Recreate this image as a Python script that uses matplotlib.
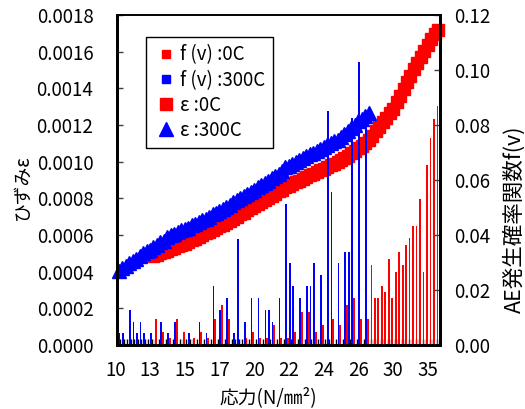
import matplotlib
matplotlib.use("Agg")
import matplotlib.pyplot as plt
from matplotlib.lines import Line2D
from matplotlib.ticker import FormatStrFormatter
import matplotlib.transforms as mtransforms
import numpy as np

plt.rcParams['font.family'] = ['Noto Sans CJK JP', 'DejaVu Sans']

# ---------------- data ----------------
tick_labels = ["10", "13", "15", "17", "20", "22", "24", "26", "30", "35"]

# AE occurrence probability f(v), one value per stress category (93 categories)
fv_0c = [
    0, 0, 0, 0, 0, 0, 0, 0, 0, 0,
    0, 0.0096, 0, 0.0048, 0, 0.0024, 0, 0.0096, 0, 0.0048,
    0, 0, 0.0024, 0, 0.0048, 0, 0.0024, 0, 0.0096, 0,
    0.0145, 0, 0.0096, 0, 0, 0, 0, 0.0024, 0, 0.0048,
    0, 0.0024, 0, 0.0024, 0, 0.0072, 0, 0.0024, 0, 0.0024,
    0, 0.0048, 0, 0.012, 0, 0.012, 0, 0.0048, 0, 0.0072,
    0, 0, 0.0096, 0, 0.0072, 0, 0.0145, 0, 0.017, 0,
    0.0096, 0, 0.0096, 0.029, 0.017, 0.017, 0.0215, 0.0193, 0.0313, 0.017,
    0.0265, 0.0338, 0.029, 0.0364, 0.0388, 0.0434, 0.0434, 0.0532, 0.0265, 0.0655,
    0.0752, 0.0822, 0.087,
]
fv_300c = [
    0.0042, 0.0042, 0, 0.0128, 0.0085, 0.0042, 0.0085, 0.0042, 0, 0.0042,
    0, 0, 0.0085, 0, 0.0042, 0, 0.0085, 0, 0, 0,
    0.0042, 0, 0, 0.0085, 0, 0.0042, 0, 0.0215, 0, 0.0128,
    0, 0.017, 0, 0.0042, 0.0385, 0, 0.0085, 0, 0.017, 0,
    0.017, 0, 0.0128, 0.0128, 0.0085, 0, 0.017, 0, 0.0513, 0.0298,
    0.0215, 0, 0.017, 0, 0.0215, 0.0215, 0.0298, 0, 0.0255, 0,
    0.085, 0.0555, 0, 0.0298, 0, 0.034, 0.034, 0.0825, 0, 0.103,
    0, 0.081, 0, 0, 0, 0, 0, 0, 0, 0,
    0, 0, 0, 0, 0, 0, 0, 0, 0, 0,
    0, 0, 0,
]

# strain epsilon, 300C: categories 0..72
eps_300c = [
    0.000404, 0.000418, 0.000430, 0.000445, 0.000458, 0.000470, 0.000488, 0.000500, 0.000512, 0.000520,
    0.000535, 0.000545, 0.000560, 0.000570, 0.000588, 0.000600, 0.000605, 0.000615, 0.000625, 0.000632,
    0.000640, 0.000652, 0.000660, 0.000670, 0.000680, 0.000690, 0.000700, 0.000712, 0.000718, 0.000730,
    0.000742, 0.000755, 0.000765, 0.000778, 0.000790, 0.000800, 0.000812, 0.000825, 0.000835, 0.000848,
    0.000860, 0.000872, 0.000885, 0.000895, 0.000910, 0.000922, 0.000935, 0.000950, 0.000970, 0.000978,
    0.000990, 0.000998, 0.001010, 0.001018, 0.001030, 0.001040, 0.001050, 0.001060, 0.001070, 0.001078,
    0.001090, 0.001100, 0.001110, 0.001120, 0.001135, 0.001150, 0.001165, 0.001185, 0.001200, 0.001220,
    0.001235, 0.001250, 0.001265,
]
# strain epsilon, 0C: categories 10..92
eps_0c_start = 10
eps_0c = [
    0.000485, 0.000492, 0.000500, 0.000508, 0.000515, 0.000522, 0.000530, 0.000538, 0.000545, 0.000552,
    0.000562, 0.000572, 0.000580, 0.000590, 0.000600, 0.000610, 0.000618, 0.000628, 0.000638, 0.000648,
    0.000657, 0.000666, 0.000676, 0.000688, 0.000700, 0.000712, 0.000722, 0.000735, 0.000745, 0.000758,
    0.000770, 0.000780, 0.000792, 0.000803, 0.000815, 0.000826, 0.000838, 0.000848, 0.000860, 0.000868,
    0.000878, 0.000888, 0.000896, 0.000906, 0.000915, 0.000925, 0.000934, 0.000944, 0.000953, 0.000962,
    0.000972, 0.000982, 0.000990, 0.001000, 0.001010, 0.001020, 0.001033, 0.001046, 0.001060, 0.001073,
    0.001086, 0.001100, 0.001120, 0.001142, 0.001165, 0.001190, 0.001215, 0.001240, 0.001265, 0.001290,
    0.001325, 0.001360, 0.001398, 0.001435, 0.001470, 0.001505, 0.001540, 0.001572, 0.001605, 0.001638,
    0.001670, 0.001695, 0.001720,
]

RED = '#FF0000'
BLUE = '#0000FF'
FS = 13.5

W, H = 525, 409
fig = plt.figure(figsize=(W / 100, H / 100), dpi=100)
L, R, T, B = 117, 440, 15, 345
ax = fig.add_axes([L / W, 1 - B / H, (R - L) / W, (B - T) / H])
ax2 = ax.twinx()

n_cat = len(fv_0c)
x = np.arange(n_cat)

# strain series on left axis (drawn below bars)
ax.plot(np.arange(eps_0c_start, eps_0c_start + len(eps_0c)), eps_0c, ls='none',
        marker='s', ms=8, color=RED, mec=RED, clip_on=False)
ax.plot(np.arange(len(eps_300c)), eps_300c, ls='none',
        marker='^', ms=9.5, color=BLUE, mec=BLUE, clip_on=False)

# f(v) bars on right axis
bw = 0.5
ax2.bar(x - 0.25, fv_0c, width=bw, color=RED, linewidth=0, antialiased=False)
ax2.bar(x + 0.25, fv_300c, width=bw, color=BLUE, linewidth=0, antialiased=False)

ax.set_xlim(-0.5, n_cat - 0.5)
ax.set_ylim(0, 0.0018)
ax2.set_ylim(0, 0.12)

ax.set_xticks(np.arange(0, n_cat, 10))
ax.set_xticklabels(tick_labels)
ax.set_xticks(np.arange(-0.5, n_cat, 1), minor=True)
ax.tick_params(axis='x', which='major', length=0, pad=11, labelsize=FS)
ax.tick_params(axis='x', which='minor', direction='in', length=4.3, width=1, color='black')
shift = mtransforms.ScaledTranslation(-3.5 / 100, 0, fig.dpi_scale_trans)
for lab in ax.get_xticklabels():
    lab.set_transform(lab.get_transform() + shift)

ax.set_yticks(np.arange(0, 0.00181, 0.0002))
ax.yaxis.set_major_formatter(FormatStrFormatter('%.4f'))
ax.tick_params(axis='y', direction='in', length=4, width=1, color='#404040', pad=17, labelsize=FS)

ax2.set_yticks(np.arange(0, 0.1201, 0.02))
ax2.yaxis.set_major_formatter(FormatStrFormatter('%.2f'))
ax2.tick_params(axis='y', direction='in', length=4, width=1, color='#404040', pad=10.5, labelsize=FS)

for a in (ax, ax2):
    for s in ('left', 'right', 'bottom'):
        a.spines[s].set_linewidth(2.0)
        a.spines[s].set_color('black')
    a.spines['top'].set_linewidth(1.2)

fig.text(22 / W, 1 - 187 / H, 'ひずみε', rotation=90, ha='center', va='center', fontsize=FS)
fig.text(514 / W, 1 - 219 / H, 'AE発生確率関数f(v)', rotation=90, ha='center', va='center', fontsize=15.5)
fig.text(268 / W, 1 - 398 / H, '応力(N/㎜²)', ha='center', va='center', fontsize=FS)

handles = [
    Line2D([], [], ls='none', marker='s', ms=6, color=RED),
    Line2D([], [], ls='none', marker='s', ms=6, color=BLUE),
    Line2D([], [], ls='none', marker='s', ms=8.5, color=RED),
    Line2D([], [], ls='none', marker='^', ms=10, color=BLUE),
]
labels = ['f (v) :0C', 'f (v) :300C', 'ε :0C', 'ε :300C']
leg = ax2.legend(handles, labels, loc='upper left',
                 bbox_to_anchor=((146 - L) / (R - L), (B - 37) / (B - T)),
                 fontsize=FS, frameon=True, fancybox=False, framealpha=1,
                 edgecolor='black', handlelength=1.3, handleheight=0.7,
                 handletextpad=0.1, labelspacing=0.22, borderpad=0.4,
                 borderaxespad=0)
leg.get_frame().set_linewidth(1.0)

fig.savefig('out.png', dpi=100)
